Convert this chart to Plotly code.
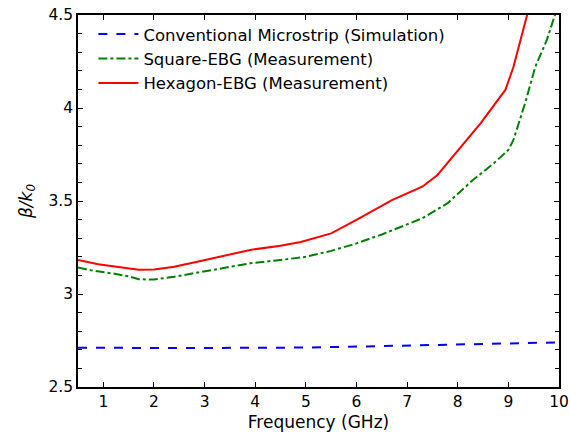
import plotly.graph_objects as go

# Conventional microstrip (simulation)
freq_conv = [0.5, 1.0, 2.0, 3.0, 4.0, 4.4, 5.0, 5.8, 6.8, 7.8, 8.7, 9.4, 10.0]
beta_conv = [2.711, 2.710, 2.710, 2.710, 2.710, 2.712, 2.712, 2.716, 2.722, 2.728, 2.733, 2.737, 2.740]

# Square-EBG (measurement)
freq_sq = [0.5, 0.8, 1.2, 1.5, 1.7, 2.0, 2.4, 2.9, 3.4, 3.9, 4.5, 5.0, 5.5, 6.0, 6.5, 7.1, 7.3, 7.8,
           8.3, 8.7, 9.0, 9.1, 9.33, 9.53, 9.76, 9.92, 10.0]
beta_sq = [3.142, 3.125, 3.110, 3.095, 3.079, 3.078, 3.093, 3.118, 3.142, 3.165, 3.183, 3.200, 3.232,
           3.272, 3.320, 3.385, 3.407, 3.488, 3.613, 3.700, 3.774, 3.828, 4.025, 4.220, 4.366, 4.500, 4.560]

# Hexagon-EBG (measurement)
freq_hex = [0.5, 0.9, 1.3, 1.7, 2.0, 2.4, 2.9, 3.4, 3.9, 4.5, 4.9, 5.5, 6.0, 6.7, 7.3, 7.6, 8.05,
            8.45, 8.94, 9.1, 9.37, 9.45]
beta_hex = [3.183, 3.160, 3.145, 3.130, 3.132, 3.147, 3.176, 3.205, 3.237, 3.260, 3.280, 3.326, 3.398,
            3.505, 3.577, 3.640, 3.790, 3.917, 4.097, 4.220, 4.500, 4.560]

x_ticks = list(range(1, 11))
y_ticks = [2.5, 3, 3.5, 4, 4.5]
y_tick_text = ["2.5", "3", "3.5", "4", "4.5"]

font_family = "DejaVu Sans, Liberation Sans, Arial, sans-serif"

fig = go.Figure()
fig.add_trace(go.Scatter(x=freq_conv, y=beta_conv, mode="lines",
                         name="Conventional Microstrip (Simulation)",
                         line=dict(color="#0000ff", width=2, dash="dash")))
fig.add_trace(go.Scatter(x=freq_sq, y=beta_sq, mode="lines",
                         name="Square-EBG (Measurement)",
                         line=dict(color="#008000", width=2, dash="dashdot")))
fig.add_trace(go.Scatter(x=freq_hex, y=beta_hex, mode="lines",
                         name="Hexagon-EBG (Measurement)",
                         line=dict(color="#ff0000", width=2)))

fig.update_layout(
    width=570, height=439,
    margin=dict(l=78, r=11, t=15, b=52),
    paper_bgcolor="white", plot_bgcolor="white",
    font=dict(family=font_family, size=15, color="black"),
    showlegend=True,
    legend=dict(x=0.032, y=0.995, xanchor="left", yanchor="top",
                bgcolor="rgba(0,0,0,0)", borderwidth=0,
                font=dict(family=font_family, size=16.5, color="black"),
                tracegroupgap=0, itemwidth=40),
)
fig.update_xaxes(
    range=[0.5, 10], tickmode="array", tickvals=x_ticks,
    ticks="inside", ticklen=5, tickwidth=1, tickcolor="black",
    showline=True, linecolor="black", linewidth=1.5, mirror="allticks",
    showgrid=False, zeroline=False, ticklabeloverflow="allow", automargin=False,
    tickfont=dict(family=font_family, size=15.5),
    title=dict(text="Frequency (GHz)", font=dict(family=font_family, size=17), standoff=6),
)
fig.update_yaxes(
    range=[2.5, 4.5], tickmode="array", tickvals=y_ticks, ticktext=y_tick_text,
    ticks="inside", ticklen=5, tickwidth=1, tickcolor="black",
    minor=dict(dtick=0.1, ticks="inside", ticklen=4, tickcolor="black", showgrid=False),
    showline=True, linecolor="black", linewidth=1.5, mirror="allticks",
    showgrid=False, zeroline=False, ticklabeloverflow="allow", automargin=False,
    tickfont=dict(family=font_family, size=15.5),
    title=dict(text="<i>β/k</i><sub><i>0</i></sub>", font=dict(family=font_family, size=17), standoff=12),
)

fig.write_html("out.html", config={"displayModeBar": False},
               post_script="document.body.style.margin='0';")
